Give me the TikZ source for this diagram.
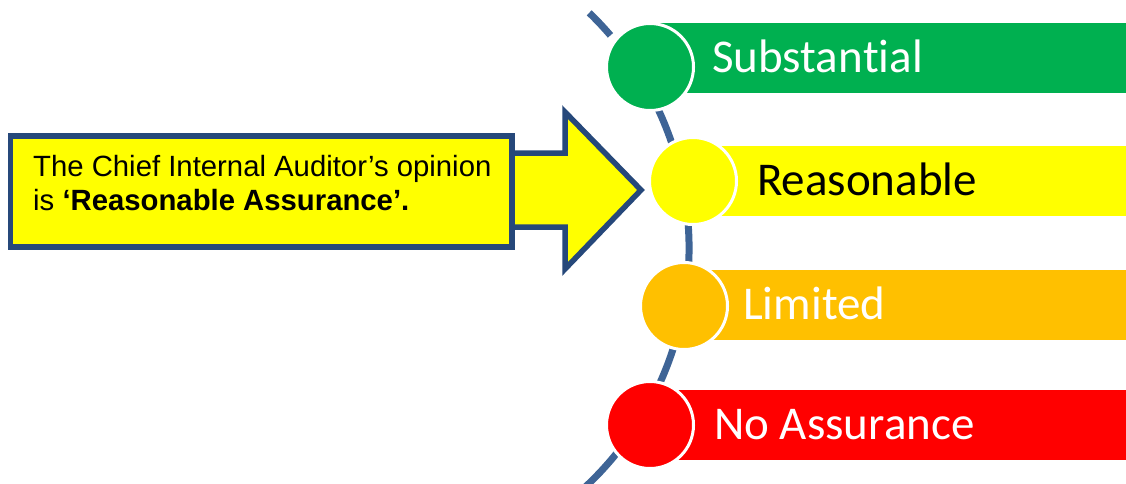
\documentclass[tikz,border=0pt]{standalone}
\usepackage{fontspec}
\setmainfont{Liberation Sans}
\newfontfamily\calibri[RawFeature={-liga;-clig;-calt;-dlig}]{Carlito}
\definecolor{cgreen}{RGB}{0,176,80}
\definecolor{cyellow}{RGB}{255,255,0}
\definecolor{corange}{RGB}{255,192,0}
\definecolor{cred}{RGB}{255,0,0}
\definecolor{arcblue}{RGB}{62,100,150}
\definecolor{darkblue}{RGB}{38,72,122}
\tikzset{
  dot/.style={circle, draw=white, line width=3pt, minimum size=87pt, inner sep=0pt},
  level/.style={anchor=base west, font=\calibri\fontsize{47}{50}\selectfont, inner sep=0pt},
  calloutline/.style={draw=darkblue, line width=5.5pt, fill=cyellow, line join=miter},
  bodytext/.style={anchor=base west, font=\fontsize{29.3}{34}\selectfont, inner sep=0pt}
}
\begin{document}
\begin{tikzpicture}[x=1pt,y=-1pt]
\useasboundingbox (0,0) rectangle (1126,483);
\fill[white] (0,0) rectangle (1126,483);
% arc
\coordinate (arcstart) at (589.2,12.8);
\draw[arcblue, line width=7pt, dash pattern=on 31pt off 16pt on 600pt] (arcstart) arc[start angle=-46, end angle=48, radius=327];
% bars
\fill[cgreen] (650,23) rectangle (1130,93);
\fill[cyellow] (693,146) rectangle (1130,216);
\fill[corange] (684,270) rectangle (1130,340);
\fill[cred] (650,390) rectangle (1130,460);
% circles
\node[dot, fill=cgreen] (c1) at (650,67) {};
\node[dot, fill=cyellow] (c2) at (693,181) {};
\node[dot, fill=corange] (c3) at (684,306) {};
\node[dot, fill=cred] (c4) at (650,425) {};
% labels
\node[level, text=white] (l1) at (712,72) {Substan\kern0pt tial};
\node[level, text=black] (l2) at (757,195) {Reasonable};
\node[level, text=white] (l3) at (743,319) {Limited};
\node[level, text=white] (l4) at (714,439) {No Assurance};
% callout arrow
\draw[calloutline] (505,153) -- (565,153) -- (565,112) -- (641,190) -- (565,269) -- (565,227) -- (505,227) -- cycle;
\draw[calloutline] (10.3,136) rectangle (512.2,247.2);
\node[bodytext] (t1) at (33,176) {The Chief Internal Auditor’s opinion};
\node[bodytext] (t2) at (33,210) {is \textbf{‘Reasonable Assurance’.}};
\end{tikzpicture}
\end{document}
